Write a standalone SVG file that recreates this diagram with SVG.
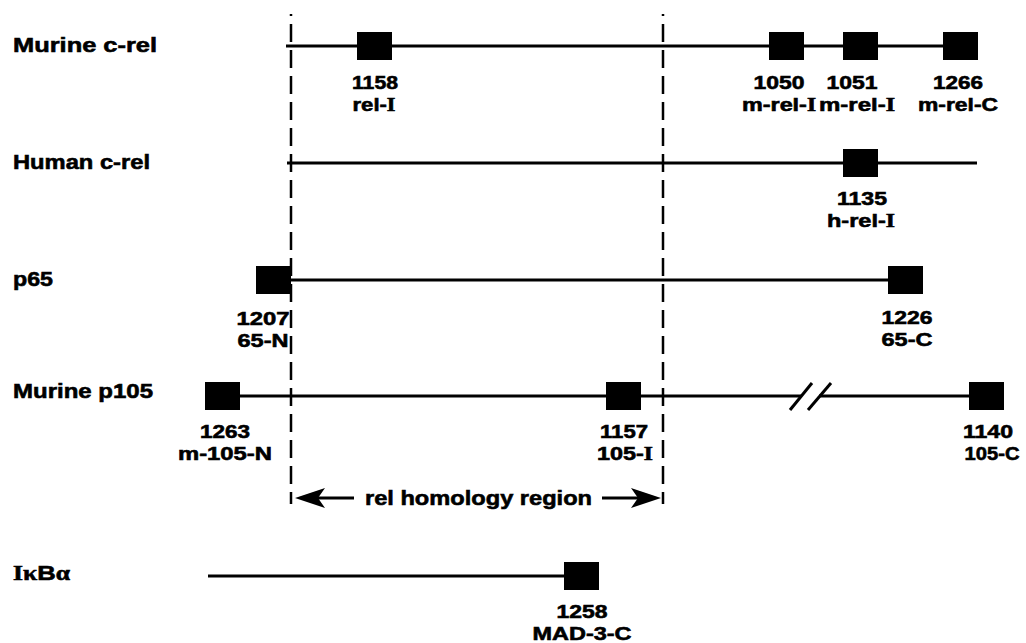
<svg xmlns="http://www.w3.org/2000/svg" width="1026" height="643" viewBox="0 0 1026 643">
<style>
.bg{fill:#fff}
.lbl{font-family:"Liberation Sans",Arial,sans-serif;font-weight:bold;font-size:21px;fill:#000;stroke:#000;stroke-width:0.6}
.num{font-family:"Liberation Sans",Arial,sans-serif;font-weight:bold;font-size:19px;fill:#000;stroke:#000;stroke-width:0.6;text-anchor:middle}
.rn{font-family:"Liberation Serif","Times New Roman",serif;font-weight:bold}
.bb{stroke:#000;stroke-width:3;fill:none}
.box{fill:#000}
.dash{stroke:#000;stroke-width:2.5;fill:none;stroke-dasharray:18 8;stroke-dashoffset:16}
.arr{stroke:#000;stroke-width:3;fill:none;marker-end:url(#ah)}
</style>
<defs>
<marker id="ah" markerUnits="userSpaceOnUse" markerWidth="32" markerHeight="24" refX="20" refY="11" orient="auto">
<path d="M0,1 L30,11 L0,21 L7,11 Z" fill="#000"/>
</marker>
</defs>
<rect class="bg" x="0" y="0" width="1026" height="643"/>

<g id="connectors">
<line class="dash" x1="291" y1="14" x2="291" y2="504"/>
<line class="dash" x1="663" y1="14" x2="663" y2="504"/>
<line class="arr" x1="354" y1="498" x2="305" y2="498"/>
<line class="arr" x1="602" y1="498" x2="651" y2="498"/>
<text class="lbl" x="365" y="505" textLength="227" lengthAdjust="spacingAndGlyphs">rel homology region</text>
</g>

<g id="murine-c-rel">
<text class="lbl" x="13" y="52" textLength="144" lengthAdjust="spacingAndGlyphs">Murine c-rel</text>
<line class="bb" x1="286" y1="46" x2="944" y2="46"/>
<g id="m1158"><rect class="box" x="357" y="32" width="35" height="28"/>
<text class="num" x="375" y="89" textLength="46" lengthAdjust="spacingAndGlyphs">1158</text>
<text class="num" x="374" y="111" textLength="43" lengthAdjust="spacingAndGlyphs">rel-<tspan class="rn">I</tspan></text></g>
<g id="m1050"><rect class="box" x="769" y="32" width="35" height="28"/>
<text class="num" x="779" y="89" textLength="51" lengthAdjust="spacingAndGlyphs">1050</text>
<text class="num" x="779" y="111" textLength="74" lengthAdjust="spacingAndGlyphs">m-rel-<tspan class="rn">I</tspan></text></g>
<g id="m1051"><rect class="box" x="843" y="32" width="35" height="28"/>
<text class="num" x="852" y="89" textLength="51" lengthAdjust="spacingAndGlyphs">1051</text>
<text class="num" x="857" y="111" textLength="76" lengthAdjust="spacingAndGlyphs">m-rel-<tspan class="rn">I</tspan></text></g>
<g id="m1266"><rect class="box" x="943" y="32" width="35" height="28"/>
<text class="num" x="958" y="89" textLength="50" lengthAdjust="spacingAndGlyphs">1266</text>
<text class="num" x="958" y="111" textLength="80" lengthAdjust="spacingAndGlyphs">m-rel-C</text></g>
</g>

<g id="human-c-rel">
<text class="lbl" x="13" y="169" textLength="137" lengthAdjust="spacingAndGlyphs">Human c-rel</text>
<line class="bb" x1="287" y1="163" x2="977" y2="163"/>
<g id="h1135"><rect class="box" x="843" y="149" width="35" height="28"/>
<text class="num" x="862" y="205" textLength="50" lengthAdjust="spacingAndGlyphs">1135</text>
<text class="num" x="861" y="227" textLength="68" lengthAdjust="spacingAndGlyphs">h-rel-<tspan class="rn">I</tspan></text></g>
</g>

<g id="p65">
<text class="lbl" x="13" y="286" textLength="40" lengthAdjust="spacingAndGlyphs">p65</text>
<line class="bb" x1="291" y1="280" x2="889" y2="280"/>
<g id="p1207"><rect class="box" x="256" y="266" width="35" height="28"/>
<text class="num" x="263" y="325" textLength="53" lengthAdjust="spacingAndGlyphs">1207</text>
<text class="num" x="263" y="347" textLength="51" lengthAdjust="spacingAndGlyphs">65-N</text></g>
<g id="p1226"><rect class="box" x="888" y="266" width="35" height="28"/>
<text class="num" x="907" y="324" textLength="51" lengthAdjust="spacingAndGlyphs">1226</text>
<text class="num" x="907" y="346" textLength="51" lengthAdjust="spacingAndGlyphs">65-C</text></g>
</g>

<g id="murine-p105">
<text class="lbl" x="13" y="398" textLength="140" lengthAdjust="spacingAndGlyphs">Murine p105</text>
<line class="bb" x1="240" y1="396" x2="801" y2="396"/>
<line class="bb" x1="819" y1="396" x2="970" y2="396"/>
<line class="bb" stroke-width="2.5" x1="790" y1="410" x2="812" y2="383"/>
<line class="bb" stroke-width="2.5" x1="808" y1="410" x2="831" y2="383"/>
<g id="p1263"><rect class="box" x="205" y="382" width="35" height="28"/>
<text class="num" x="225" y="438" textLength="50" lengthAdjust="spacingAndGlyphs">1263</text>
<text class="num" x="225" y="460" textLength="94" lengthAdjust="spacingAndGlyphs">m-105-N</text></g>
<g id="p1157"><rect class="box" x="606" y="382" width="35" height="28"/>
<text class="num" x="624" y="438" textLength="48" lengthAdjust="spacingAndGlyphs">1157</text>
<text class="num" x="625" y="460" textLength="56" lengthAdjust="spacingAndGlyphs">105-<tspan class="rn">I</tspan></text></g>
<g id="p1140"><rect class="box" x="969" y="382" width="35" height="28"/>
<text class="num" x="988" y="438" textLength="50" lengthAdjust="spacingAndGlyphs">1140</text>
<text class="num" x="992" y="460" textLength="55" lengthAdjust="spacingAndGlyphs">105-C</text></g>
</g>

<g id="ikba">
<text class="lbl" x="13" y="580" textLength="57" lengthAdjust="spacingAndGlyphs"><tspan class="rn">Iκ</tspan>B<tspan class="rn" font-weight="normal">α</tspan></text>
<line class="bb" x1="208" y1="576" x2="565" y2="576"/>
<g id="i1258"><rect class="box" x="564" y="562" width="35" height="28"/>
<text class="num" x="582" y="618" textLength="51" lengthAdjust="spacingAndGlyphs">1258</text>
<text class="num" x="582" y="640" textLength="99" lengthAdjust="spacingAndGlyphs">MAD-3-C</text></g>
</g>
</svg>
